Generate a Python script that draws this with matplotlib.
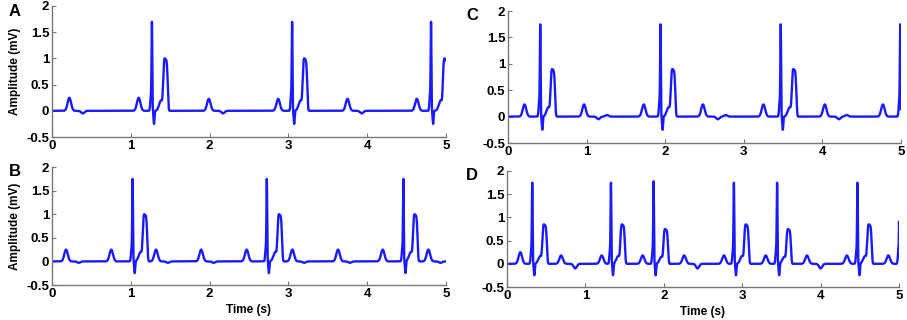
import numpy as np
import matplotlib
matplotlib.use('Agg')
import matplotlib.pyplot as plt
from matplotlib import ticker

plt.rcParams['font.family'] = ['Liberation Sans', 'DejaVu Sans']
plt.rcParams['font.weight'] = 'bold'

# 이벤트 시각 (s) / 진폭 (mV) - 그림에서 읽은 값
# A
a_p_times = [0.22, 1.10, 1.99, 2.87, 3.75, 4.63]
a_p_amps = [0.25, 0.25, 0.23, 0.23, 0.23, 0.23]
a_r_times = [1.268, 3.047, 4.81]
a_r_amps = [1.7, 1.7, 1.7]
a_t_times = [1.44, 3.21, 4.99]
a_t_amps = [1.0, 1.0, 1.0]
a_u_times = [0.39, 2.17, 3.93]
a_u_amps = [-0.05, -0.05, -0.05]

# B
b_p_times = [0.178, 0.752, 1.32, 1.893, 2.47, 3.05, 3.63, 4.197, 4.776]
b_p_amps = [0.25, 0.25, 0.25, 0.25, 0.25, 0.25, 0.25, 0.25, 0.25]
b_r_times = [1.023, 2.726, 4.459]
b_r_amps = [1.75, 1.75, 1.75]
b_t_times = [1.18, 2.89, 4.61]
b_t_amps = [1.0, 1.0, 1.0]
b_u_times = [0.34, 1.47, 2.05, 3.2, 3.78, 4.93]
b_u_amps = [-0.03, -0.03, -0.03, -0.03, -0.03, -0.03]

# C
c_p_times = [0.21, 0.968, 1.727, 2.48, 3.25, 4.03, 4.77]
c_p_amps = [0.23, 0.23, 0.23, 0.23, 0.23, 0.23, 0.23]
c_r_times = [0.41, 1.94, 3.47, 4.99]
c_r_amps = [1.75, 1.75, 1.75, 1.75]
c_t_times = [0.57, 2.10, 3.64]
c_t_amps = [0.9, 0.9, 0.9]
c_u_times = [1.15, 1.26, 2.67, 2.77, 4.21, 4.31]
c_u_amps = [-0.05, 0.03, -0.05, 0.03, -0.05, 0.03]

# D
d_p_times = [0.17, 0.69, 1.208, 1.73, 2.26, 2.767, 3.30, 3.826, 4.335, 4.864]
d_p_amps = [0.25, 0.18, 0.18, 0.18, 0.18, 0.18, 0.18, 0.18, 0.18, 0.18]
d_r_times = [0.322, 1.326, 1.87, 2.894, 3.445, 4.47, 5.006]
d_r_amps = [1.75, 1.75, 1.78, 1.75, 1.75, 1.75, 1.75]
d_t_times = [0.48, 1.475, 2.025, 3.055, 3.593, 4.623]
d_t_amps = [0.85, 0.85, 0.75, 0.85, 0.75, 0.85]
d_u_times = [0.87, 2.43, 4.0]
d_u_amps = [-0.1, -0.1, -0.1]

t = np.linspace(0, 5, 5001)


def ecg(p_times, p_amps, r_times, r_amps, t_times, t_amps, u_times, u_amps):
    y = np.zeros_like(t)
    for t0, a in zip(p_times, p_amps):
        y += a * np.exp(-0.5 * ((t - t0) / 0.022) ** 2)
    for t0, a in zip(r_times, r_amps):
        # 어깨 성분만큼 R 진폭 보정
        y += (a - 0.1) * np.exp(-0.5 * ((t - t0) / 0.0045) ** 2)
        y += 0.3 * np.exp(-0.5 * ((t - t0 + 0.012) / 0.008) ** 2)
        y -= 0.25 * np.exp(-0.5 * ((t - t0 - 0.026) / 0.006) ** 2)
    for t0, a in zip(t_times, t_amps):
        y += 0.97 * a * np.exp(-((t - t0) / 0.032) ** 4)
        y += 0.2 * a * np.exp(-0.5 * ((t - t0 + 0.055) / 0.025) ** 2)
    for t0, a in zip(u_times, u_amps):
        y += a * np.exp(-0.5 * ((t - t0) / 0.02) ** 2)
    return y


panels = [
    ('A', [52, 446, 6, 137], ecg(a_p_times, a_p_amps, a_r_times, a_r_amps,
                                  a_t_times, a_t_amps, a_u_times, a_u_amps), True, False),
    ('B', [52, 446, 167, 285], ecg(b_p_times, b_p_amps, b_r_times, b_r_amps,
                                    b_t_times, b_t_amps, b_u_times, b_u_amps), True, True),
    ('C', [508, 901, 11, 143], ecg(c_p_times, c_p_amps, c_r_times, c_r_amps,
                                    c_t_times, c_t_amps, c_u_times, c_u_amps), False, False),
    ('D', [507, 899, 171, 287], ecg(d_p_times, d_p_amps, d_r_times, d_r_amps,
                                     d_t_times, d_t_amps, d_u_times, d_u_amps), False, True),
]

W, H = 907, 320
fig = plt.figure(figsize=(W / 100, H / 100), dpi=100)

for letter, (x0, x1, y0, y1), sig, ylab, xlab in panels:
    ax = fig.add_axes([x0 / W, 1 - y1 / H, (x1 - x0) / W, (y1 - y0) / H])
    ax.plot(t, sig, color='#1a1aff', linewidth=1.7)
    ax.set_xlim(0, 5)
    ax.set_ylim(-0.5, 2)
    ax.set_xticks([0, 1, 2, 3, 4, 5])
    ax.set_yticks([-0.5, 0, 0.5, 1, 1.5, 2])
    ax.yaxis.set_major_formatter(ticker.FormatStrFormatter('%g'))
    for s in ['top', 'right']:
        ax.spines[s].set_visible(False)
    for s in ['left', 'bottom']:
        ax.spines[s].set_color('#777777')
        ax.spines[s].set_linewidth(1.0)
    ax.tick_params(direction='in', length=3, width=0.8, color='#777777',
                   labelsize=9.5, pad=2)
    for lab in ax.get_xticklabels() + ax.get_yticklabels():
        lab.set_fontweight('bold')
    if ylab:
        ax.set_ylabel('Amplitude (mV)', fontsize=8.5, fontweight='bold', labelpad=4)
    if xlab:
        ax.set_xlabel('Time (s)', fontsize=8.5, fontweight='bold', labelpad=3)
    lx = 15 if x0 < 100 else 472
    ly = y0 + 5
    fig.text(lx / W, 1 - ly / H, letter, fontsize=12, fontweight='bold',
             ha='center', va='center')

fig.savefig('out.png', dpi=100, facecolor='white')
